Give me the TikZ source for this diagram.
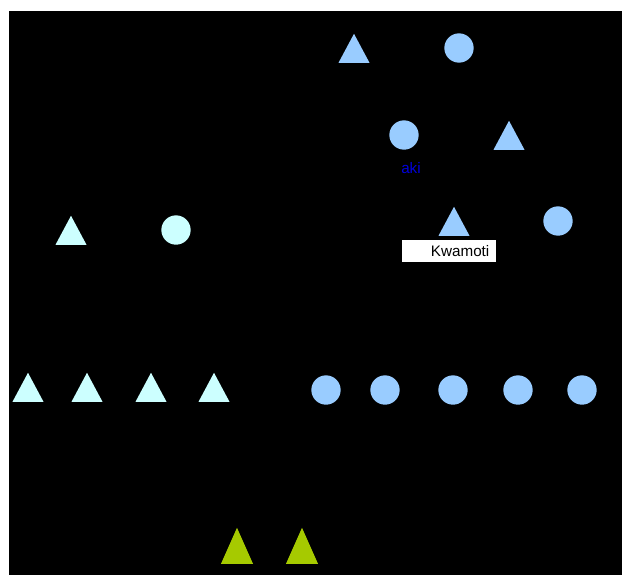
\documentclass[tikz,border=0pt]{standalone}
\usepackage{fontspec}
\setmainfont{Liberation Sans}
\usetikzlibrary{shapes.geometric,positioning}
\definecolor{kinblue}{RGB}{153,204,255}
\definecolor{kincyan}{RGB}{204,255,255}
\definecolor{kingreen}{RGB}{166,202,0}
\definecolor{akiblue}{RGB}{0,0,220}
\tikzset{
  male/.style={isosceles triangle, isosceles triangle stretches,
    shape border rotate=90, minimum width=0.93cm, minimum height=0.87cm,
    inner sep=0pt, anchor=lower side},
  female/.style={circle, minimum size=0.88cm, inner sep=0pt},
  namebox/.style={fill=white, inner xsep=0.2cm, inner ysep=0pt,
    text width=2.42cm, align=right, minimum height=0.66cm,
    font=\fontsize{13}{15}\selectfont},
}

\begin{document}
\begin{tikzpicture}[x=0.03cm, y=-0.03cm]
  \fill[white] (0,0) rectangle (622,575);
  \fill[black] (9,11) rectangle (622,575);
  \useasboundingbox (0,0) rectangle (622,575);

  % first generation
  \node[male, fill=kinblue] (grandpa) at (354,63) {};
  \node[female, fill=kinblue] (grandma) at (459,48) {};

  % second generation
  \node[female, fill=kinblue] (aki) at (404,135) {};
  \node[male, fill=kinblue] (akiman) at (509,150) {};
  \node[text=akiblue, font=\fontsize{13}{15}\selectfont, inner sep=0pt]
    (akilabel) at (411,168) {aki};

  % third generation
  \node[male, fill=kinblue] (kwamoti) at (454,236) {};
  \node[female, fill=kinblue] (kwawife) at (558,221) {};
  \node[namebox] (kwaname) at (449,251) {Kwamoti};

  \node[male, fill=kincyan] (cyanman) at (71,245) {};
  \node[female, fill=kincyan] (cyanwife) at (176,230) {};

  % fourth generation
  \foreach \x [count=\i] in {28,87,151,214}
    \node[male, fill=kincyan] (son\i) at (\x,402) {};
  \foreach \x [count=\i] in {326,385,453,518,582}
    \node[female, fill=kinblue] (dau\i) at (\x,390) {};

  % fifth generation
  \node[male, fill=kingreen, minimum height=1.08cm, minimum width=0.96cm]
    (grand1) at (237,564) {};
  \node[male, fill=kingreen, minimum height=1.08cm, minimum width=0.96cm]
    (grand2) at (302,564) {};
\end{tikzpicture}
\end{document}
